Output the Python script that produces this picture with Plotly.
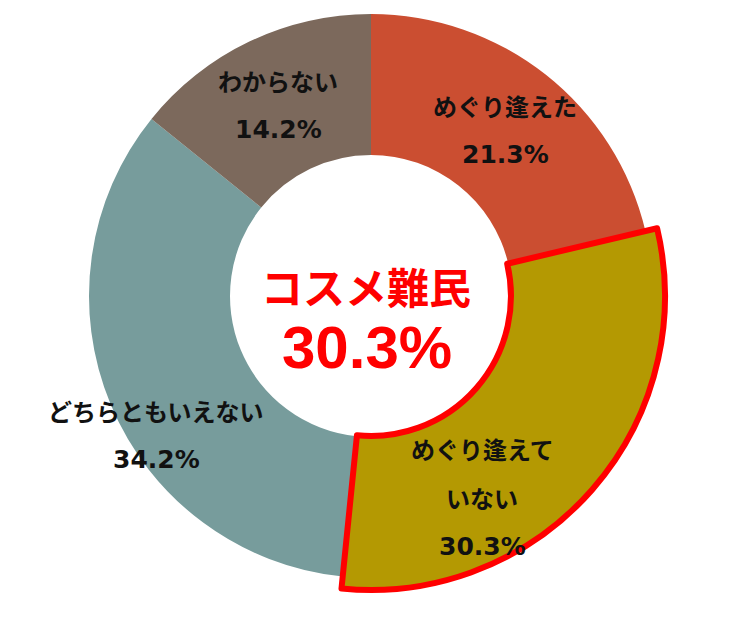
import plotly.graph_objects as go

# ---- data ----
categories = ["めぐり逢えた", "めぐり逢えていない", "どちらともいえない", "わからない"]
values = [21.3, 30.3, 34.2, 14.2]
label_lines = [["めぐり逢えた"], ["めぐり逢えて", "いない"], ["どちらともいえない"], ["わからない"]]
center_title = "コスメ難民"
highlight = "めぐり逢えていない"

# ---- styling ----
W, H = 740, 618
colors = ["#CB4E31", "#B49902", "#779C9C", "#7C695C"]
CX, CY = 371, 296          # pie centre in pixels (from top-left)
R1, R2 = 282, 294          # base ring radius, highlighted slice radius
HOLE1, HOLE2 = 0.5, 0.476

def dom(r):
    return dict(x=[(CX - r) / W, (CX + r) / W],
                y=[(H - CY - r) / H, (H - CY + r) / H])

def px2paper(px, py):
    return px / W, 1 - py / H

hi = categories.index(highlight)

fig = go.Figure()
fig.add_trace(go.Pie(
    labels=categories, values=values, sort=False, direction="clockwise",
    rotation=0, hole=HOLE1, domain=dom(R1),
    marker=dict(colors=colors, line=dict(width=0)),
    textinfo="none", hoverinfo="label+percent", showlegend=False,
))
fig.add_trace(go.Pie(
    labels=categories, values=values, sort=False, direction="clockwise",
    rotation=0, hole=HOLE2, domain=dom(R2),
    marker=dict(
        colors=[colors[i] if i == hi else "rgba(0,0,0,0)" for i in range(len(categories))],
        line=dict(color="#FF0000", width=[6 if i == hi else 0 for i in range(len(categories))]),
    ),
    textinfo="none", hoverinfo="skip", showlegend=False,
))

# label anchor positions in pixels: first line centre, line step
label_pos = [(505, 105), (482, 448), (156, 410), (278, 80)]
STEP = 49
kana_font = dict(family="Noto Sans CJK JP", size=24, color="#111111", weight="bold")
num_font = dict(family="DejaVu Sans, Noto Sans CJK JP", size=25, color="#111111", weight="bold")

ann = []
for i, (px, py) in enumerate(label_pos):
    lines = label_lines[i] + [f"{values[i]:.1f}%"]
    for k, t in enumerate(lines):
        x, y = px2paper(px, py + k * STEP)
        ann.append(dict(x=x, y=y, xref="paper", yref="paper",
                        text=t, showarrow=False, xanchor="center", yanchor="middle",
                        font=num_font if k == len(lines) - 1 else kana_font))

x, y = px2paper(366, 286)
ann.append(dict(x=x, y=y, xref="paper", yref="paper", text=center_title,
                showarrow=False, xanchor="center", yanchor="middle",
                font=dict(family="Noto Sans CJK JP", size=42, color="#FF0000", weight="bold")))
x, y = px2paper(367, 347)
ann.append(dict(x=x, y=y, xref="paper", yref="paper",
                text=f"{values[hi]:.1f}%", showarrow=False, xanchor="center", yanchor="middle",
                font=dict(family="Liberation Sans, Arial", size=60, color="#FF0000", weight="bold")))

fig.update_layout(
    width=W, height=H, margin=dict(l=0, r=0, t=0, b=0),
    paper_bgcolor="white", plot_bgcolor="white",
    annotations=ann,
)
fig.write_html("out.html", config={"displayModeBar": False},
               post_script="document.body.style.margin='0';")
